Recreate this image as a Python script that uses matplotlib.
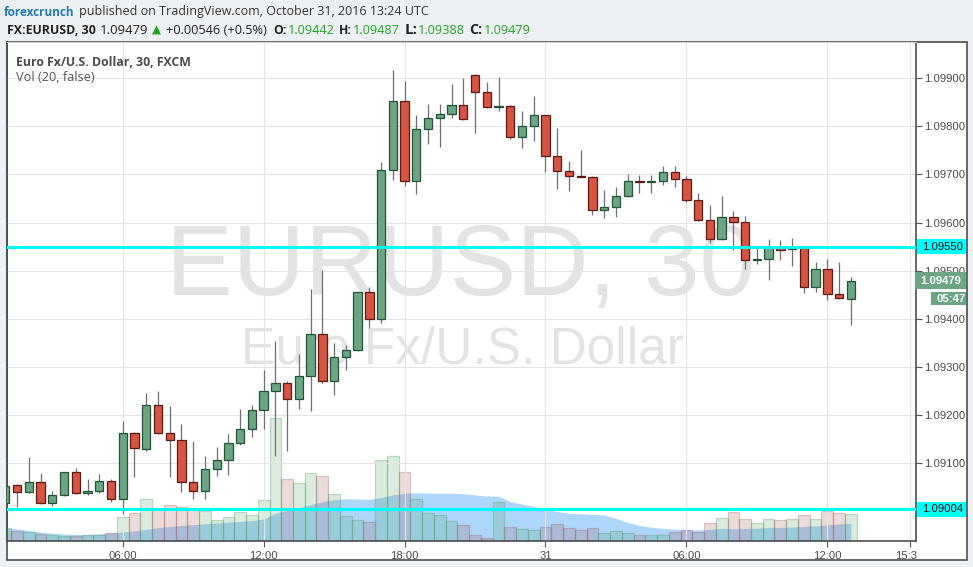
import matplotlib
matplotlib.use('Agg')
import matplotlib.pyplot as plt
from matplotlib.patches import Rectangle
from matplotlib.transforms import blended_transform_factory, offset_copy
import numpy as np
import pandas as pd

# ---------------- data (EUR/USD, 30 min, FXCM) ----------------
opens = [1.09016, 1.09054, 1.09039, 1.09060, 1.09016, 1.09033, 1.09081, 1.09037, 1.09041, 1.09062,
         1.09025, 1.09162, 1.09130, 1.09220, 1.09162, 1.09147, 1.09060, 1.09041, 1.09087, 1.09106,
         1.09141, 1.09170, 1.09210, 1.09249, 1.09266, 1.09233, 1.09282, 1.09368, 1.09270, 1.09320,
         1.09336, 1.09455, 1.09399, 1.09709, 1.09852, 1.09686, 1.09794, 1.09817, 1.09825, 1.09844,
         1.09907, 1.09871, 1.09840, 1.09842, 1.09779, 1.09800, 1.09823, 1.09738, 1.09707, 1.09696,
         1.09694, 1.09626, 1.09632, 1.09655, 1.09685, 1.09684, 1.09686, 1.09705, 1.09690, 1.09646,
         1.09605, 1.09565, 1.09611, 1.09601, 1.09522, 1.09525, 1.09550, 1.09545, 1.09547, 1.09467,
         1.09503, 1.09451, 1.09442]
highs = [1.09054, 1.09057, 1.09113, 1.09079, 1.09042, 1.09082, 1.09090, 1.09067, 1.09077, 1.09067,
         1.09187, 1.09165, 1.09246, 1.09250, 1.09219, 1.09181, 1.09146, 1.09115, 1.09133, 1.09160,
         1.09212, 1.09221, 1.09293, 1.09354, 1.09271, 1.09327, 1.09462, 1.09501, 1.09350, 1.09345,
         1.09456, 1.09466, 1.09726, 1.09917, 1.09894, 1.09824, 1.09847, 1.09847, 1.09888, 1.09901,
         1.09908, 1.09892, 1.09903, 1.09844, 1.09833, 1.09863, 1.09824, 1.09796, 1.09728, 1.09751,
         1.09696, 1.09668, 1.09675, 1.09702, 1.09698, 1.09698, 1.09718, 1.09718, 1.09696, 1.09661,
         1.09637, 1.09655, 1.09624, 1.09614, 1.09550, 1.09566, 1.09564, 1.09568, 1.09549, 1.09518,
         1.09524, 1.09518, 1.09487]
lows = [1.09016, 1.09009, 1.09038, 1.09015, 1.09011, 1.09032, 1.09036, 1.09034, 1.09037, 1.09018,
        1.08995, 1.09072, 1.09126, 1.09161, 1.09070, 1.09040, 1.09026, 1.09026, 1.09074, 1.09076,
        1.09138, 1.09155, 1.09171, 1.09115, 1.09126, 1.09213, 1.09208, 1.09266, 1.09242, 1.09294,
        1.09334, 1.09381, 1.09392, 1.09689, 1.09677, 1.09660, 1.09764, 1.09758, 1.09817, 1.09814,
        1.09787, 1.09839, 1.09833, 1.09774, 1.09756, 1.09770, 1.09706, 1.09670, 1.09666, 1.09694,
        1.09616, 1.09610, 1.09612, 1.09653, 1.09662, 1.09662, 1.09679, 1.09673, 1.09643, 1.09604,
        1.09558, 1.09564, 1.09542, 1.09504, 1.09514, 1.09481, 1.09523, 1.09510, 1.09454, 1.09456,
        1.09440, 1.09442, 1.09388]
closes = [1.09053, 1.09039, 1.09060, 1.09016, 1.09033, 1.09081, 1.09037, 1.09041, 1.09062, 1.09025,
          1.09162, 1.09131, 1.09220, 1.09162, 1.09147, 1.09060, 1.09041, 1.09087, 1.09106, 1.09141,
          1.09170, 1.09210, 1.09249, 1.09266, 1.09233, 1.09282, 1.09368, 1.09270, 1.09320, 1.09336,
          1.09455, 1.09399, 1.09709, 1.09852, 1.09686, 1.09794, 1.09817, 1.09825, 1.09844, 1.09815,
          1.09871, 1.09840, 1.09842, 1.09779, 1.09800, 1.09823, 1.09738, 1.09707, 1.09696, 1.09694,
          1.09626, 1.09632, 1.09655, 1.09686, 1.09684, 1.09685, 1.09705, 1.09690, 1.09646, 1.09605,
          1.09565, 1.09611, 1.09601, 1.09522, 1.09525, 1.09550, 1.09544, 1.09547, 1.09467, 1.09503,
          1.09451, 1.09443, 1.09479]
volumes = [508, 400, 360, 280, 228, 188, 188, 240, 240, 308,
           948, 1120, 1668, 1280, 1428, 1348, 1280, 1200, 852, 948,
           1160, 1028, 1628, 4908, 2468, 2308, 2708, 2588, 1868, 988,
           828, 748, 3228, 3388, 2748, 1668, 1108, 1028, 788, 628,
           228, 108, 1548, 548, 468, 428, 548, 668, 508, 428,
           508, 308, 388, 308, 228, 228, 228, 348, 428, 348,
           708, 908, 1160, 868, 708, 868, 828, 868, 1028, 868,
           1188, 1108, 1068]
# Vol(20) SMA values for the first bars (earlier bars are off-screen)
vol_ma_head = [520, 480, 420, 360, 308, 280, 260, 260, 288, 328,
               360, 400, 468, 528, 580, 620, 652, 688, 720]
x_tick_pos = [10, 22, 34, 46, 58, 70, 77]
x_tick_labels = ['06:00', '12:00', '18:00', '31', '06:00', '12:00', '15:30']
y_ticks = [1.09100, 1.09200, 1.09300, 1.09400, 1.09500, 1.09600, 1.09700, 1.09800, 1.09900]
levels = [1.09550, 1.09004]
last_price = 1.09479
countdown = '05:47'

# ---------------- figure ----------------
W, H = 973, 567
plt.rcParams['font.family'] = ['Liberation Sans', 'DejaVu Sans']
fig = plt.figure(figsize=(W / 100, H / 100), dpi=100)
fig.patch.set_facecolor('#eef1f4')
renderer = fig.canvas.get_renderer()

L, R, T, B = 7, 916, 42, 541
# outer frame (price scale + time scale area)
fig.add_artist(Rectangle((7 / W, (H - 560) / H), 960 / W, 518 / H, transform=fig.transFigure,
                         fc='white', ec='#4d4d4d', lw=1.2, zorder=-1))

def ftext(x, y, s, **kw):
    return fig.text(x / W, 1 - y / H, s, **kw)

def fit_text(x, y, s, width_px, **kw):
    """Place text at pixel (x, baseline y) and scale its size to the given pixel width."""
    t = ftext(x, y, s, va='baseline', **kw)
    for _ in range(3):
        w = t.get_window_extent(renderer=renderer).width
        if w > 0:
            t.set_fontsize(t.get_fontsize() * width_px / w)
    return t

# watermark
ftext(460, 295, 'EURUSD, 30', fontsize=72, color='#e3e3e3', ha='center', va='baseline',
      family='Liberation Sans', zorder=0.5)
ftext(462, 364, 'Euro Fx/U.S. Dollar', fontsize=37, color='#e3e3e3', ha='center', va='baseline',
      family='Liberation Sans', zorder=0.5)

ax = fig.add_axes([L / W, 1 - B / H, (R - L) / W, (B - T) / H])
axv = ax.twinx()
ax.set_zorder(2)
axv.set_zorder(1)
ax.patch.set_visible(False)
axv.patch.set_visible(False)

n = len(opens)
x = np.arange(n)
o = np.array(opens); c = np.array(closes); hi = np.array(highs); lo = np.array(lows)
up = c >= o

ylo, yhi = 1.089379, 1.099755
ax.set_xlim(0.145, 77.55)
ax.set_ylim(ylo, yhi)
px = (yhi - ylo) / (B - T)

# volume + Vol(20) MA
vol = np.array(volumes, dtype=float)
ma = pd.Series(vol).rolling(20).mean().to_numpy()
ma[:len(vol_ma_head)] = vol_ma_head
axv.set_ylim(0, (B - T) * 40)
axv.fill_between(x, 0, ma, color='#acd6fa', lw=0, zorder=1)
vface = [(0.31, 0.63, 0.37, 0.2) if u else (0.63, 0.31, 0.31, 0.2) for u in up]
vedge = [(0.31, 0.63, 0.37, 0.35) if u else (0.63, 0.31, 0.31, 0.3) for u in up]
axv.bar(x, vol, width=1.0, color=vface, edgecolor=vedge, linewidth=0.9, zorder=2)
axv.set_yticks([])
for s in axv.spines.values():
    s.set_visible(False)

# candles
ax.vlines(x, lo, hi, color='#6e6e6e', lw=0.9, zorder=3)
bottoms = np.minimum(o, c)
heights = np.maximum(np.abs(c - o), px * 1.0)
face = ['#6ba583' if u else '#d75442' for u in up]
edge = ['#225437' if u else '#5b1a13' for u in up]
ax.bar(x, heights, bottom=bottoms, width=0.71, color=face, edgecolor=edge, linewidth=0.9, zorder=4)

# horizontal levels
for lv in levels:
    ax.axhline(lv, color='#00ffff', lw=2.2, zorder=5)

# axes styling
ax.set_xticks(x_tick_pos)
ax.set_xticklabels(x_tick_labels)
ax.set_yticks(y_ticks)
ax.set_yticklabels(['%.5f' % v for v in y_ticks])
ax.yaxis.tick_right()
ax.tick_params(axis='y', length=4, width=0.8, color='#555555', labelsize=8.1,
               labelcolor='#4a4a4a', pad=2)
ax.tick_params(axis='x', length=4, width=0.8, color='#555555', labelsize=8.1,
               labelcolor='#4a4a4a', pad=3)
ax.grid(True, color='#e4e4e4', lw=0.8, zorder=0)
ax.set_axisbelow(True)
for side in ['left', 'bottom', 'right']:
    ax.spines[side].set_color('#4d4d4d')
    ax.spines[side].set_linewidth(1.2)
ax.spines['top'].set_color('#d0d0d0')
ax.spines['top'].set_linewidth(0.8)

# right-scale labels
bt = blended_transform_factory(ax.transAxes, ax.transData)
def fx(pxl):
    return (pxl - L) / (R - L)

def scale_label(level, text, fc, tc, x0, x1, h, weight='normal', dy=0, fs=8.1):
    tr = offset_copy(bt, fig=fig, y=-dy, units='dots')
    ax.add_patch(Rectangle((fx(x0), level - h / 2 * px), fx(x1) - fx(x0), h * px,
                           transform=tr, fc=fc, ec='none', clip_on=False, zorder=6))
    ax.text(fx(x0 + 5.5), level, text, transform=tr, fontsize=fs, color=tc, weight=weight,
            ha='left', va='center', clip_on=False, zorder=7)

for lv in levels:
    scale_label(lv, '%.5f' % lv, '#00ffff', '#111111', 916.5, 966, 15)
scale_label(last_price, '%.5f' % last_price, '#6ba583', 'white', 915, 966, 16.6, weight='bold')
scale_label(last_price, countdown, '#6ba583', 'white', 930.7, 966, 13.3, weight='bold', dy=18)

# hide the part of the last time label that runs under the price scale
fig.add_artist(Rectangle(((R + 0.8) / W, (H - 559.4) / H), 49 / W, 17.6 / H,
                         transform=fig.transFigure, fc='white', ec='none', zorder=10))

# legend texts
lf = ['Open Sans', 'DejaVu Sans']
fit_text(15.5, 65.5, 'Euro Fx/U.S. Dollar, 30, FXCM', 175, fontsize=9, weight='bold',
         color='#4a4a4a', family=lf, zorder=5)
fit_text(15.5, 81, 'Vol (20, false)', 79, fontsize=9, color='#555555', family=lf, zorder=5)

# header
hf = ['Open Sans', 'DejaVu Sans']
fit_text(4, 15.5, 'forexcrunch', 70, fontsize=9, weight='bold', color='#2377b5', family=hf)
fit_text(79, 15.5, 'published on TradingView.com, October 31, 2016 13:24 UTC', 345, fontsize=9,
         color='#333333', family=hf)
green = '#21a521'
y2 = 33.5
fit_text(7, y2, 'FX:EURUSD, 30', 89, fontsize=9, weight='bold', color='#222222', family=hf)
fit_text(100, y2, '%.5f' % last_price, 48, fontsize=9, color='#222222', family=hf)
ftext(152, y2, '\u25B2', fontsize=8.5, color=green, family=['DejaVu Sans'], va='baseline')
fit_text(166, y2, '+0.00546 (+0.5%)', 102, fontsize=9, color='#222222', family=hf)
for lab, xl, val, xv in [('O:', 273, opens[-1], 288), ('H:', 339, highs[-1], 353),
                         ('L:', 405, lows[-1], 418), ('C:', 469, closes[-1], 484)]:
    fit_text(xl, y2, lab, 13, fontsize=9, weight='bold', color='#222222', family=hf)
    fit_text(xv, y2, '%.5f' % val, 47, fontsize=9, color=green, family=hf)

fig.savefig('out.png', dpi=100, facecolor=fig.get_facecolor())
